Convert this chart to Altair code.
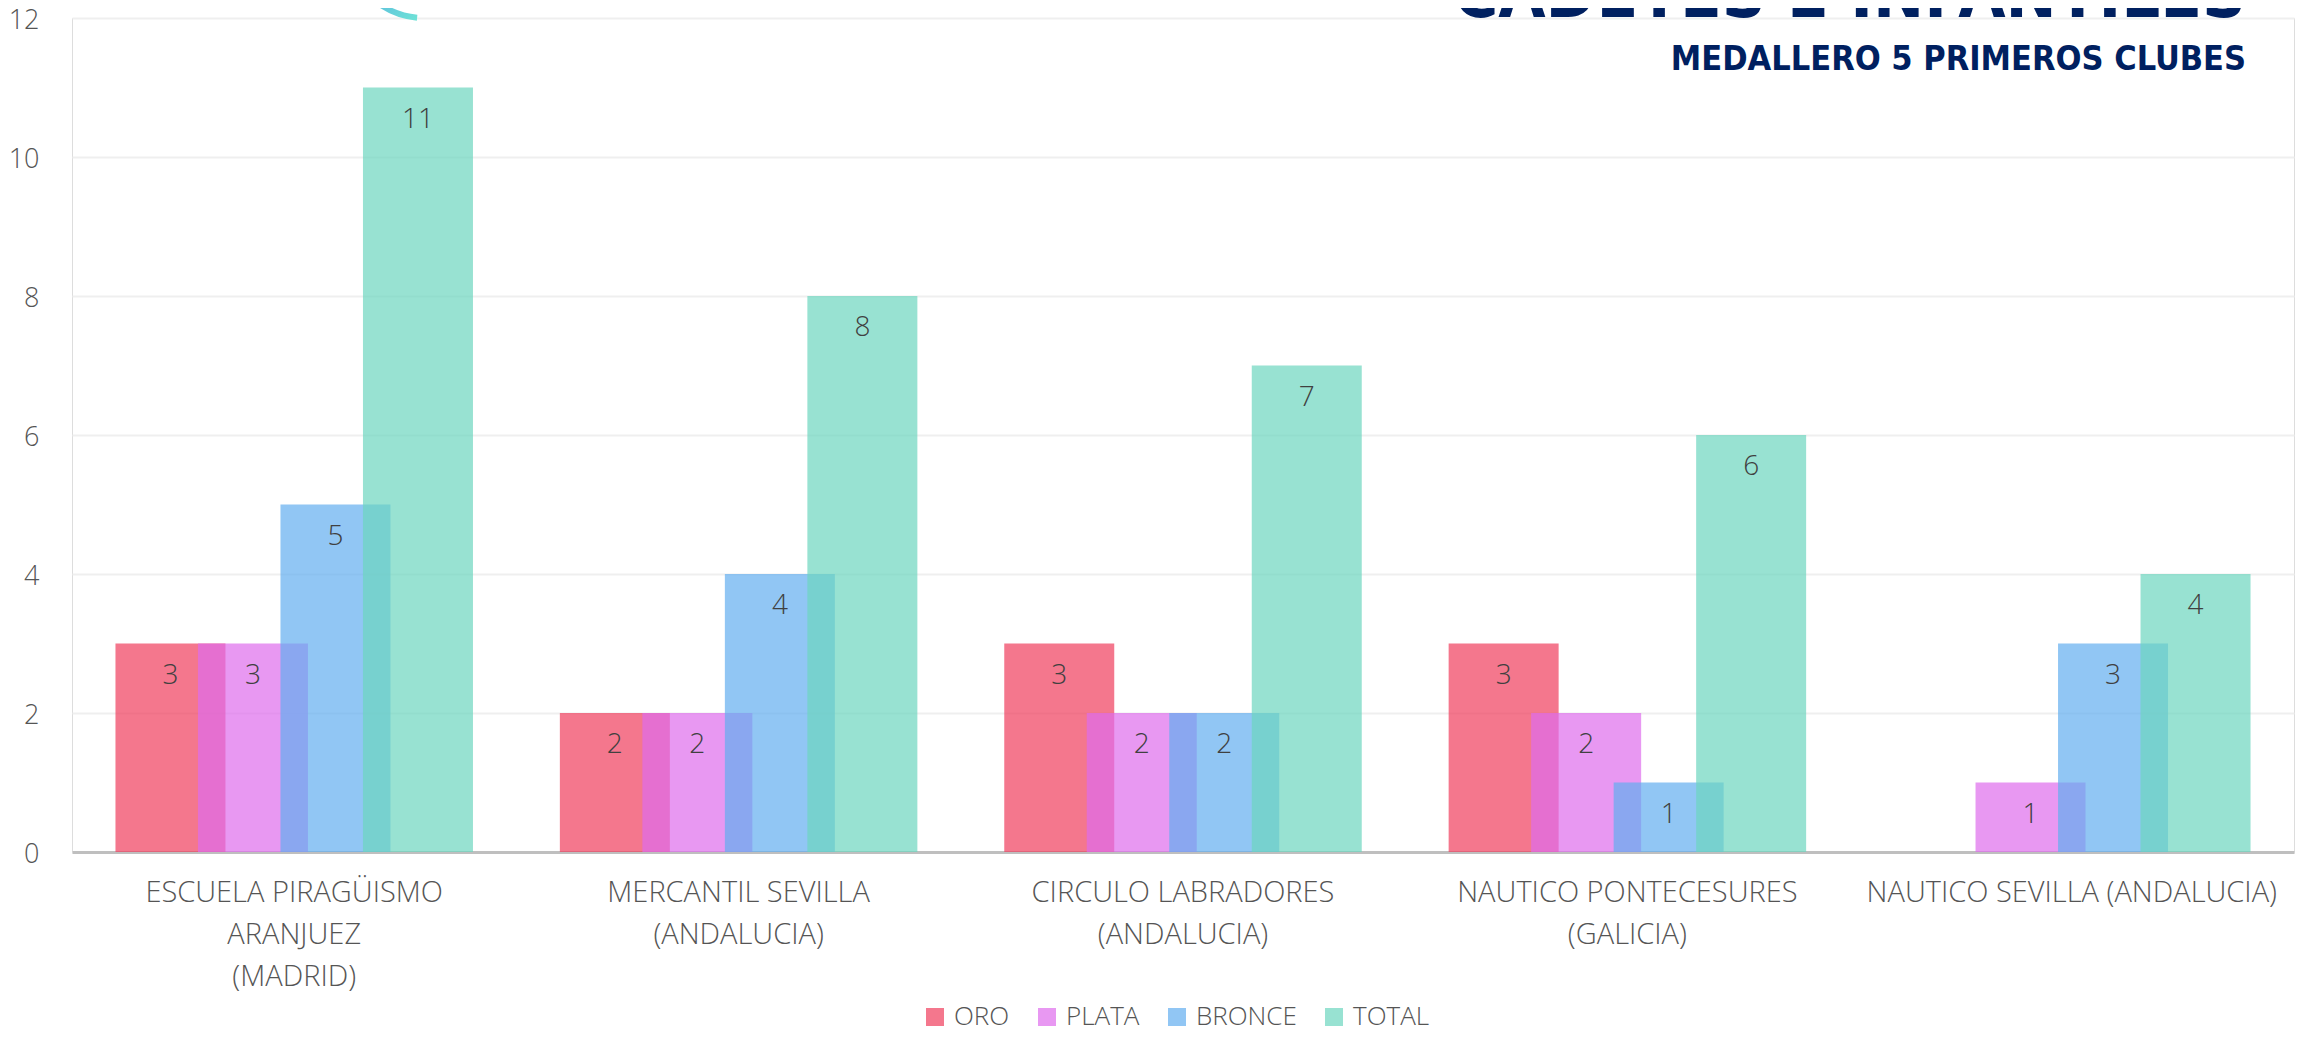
import altair as alt
import pandas as pd

clubs = [
    "ESCUELA PIRAGÜISMO|ARANJUEZ|(MADRID)",
    "MERCANTIL SEVILLA|(ANDALUCIA)",
    "CIRCULO LABRADORES|(ANDALUCIA)",
    "NAUTICO PONTECESURES|(GALICIA)",
    "NAUTICO SEVILLA (ANDALUCIA)",
]
medals = ["ORO", "PLATA", "BRONCE", "TOTAL"]
oro = [3, 2, 3, 3, 0]
plata = [3, 2, 2, 2, 1]
bronce = [5, 4, 2, 1, 3]
total = [11, 8, 7, 6, 4]
colors = ["#EF3D5C", "#DE6CEC", "#63AEEF", "#6CD6BF"]
y_ticks = [0, 2, 4, 6, 8, 10, 12]
title_text = "CADETES E INFANTILES"
subtitle_text = "MEDALLERO 5 PRIMEROS CLUBES"

series = {"ORO": oro, "PLATA": plata, "BRONCE": bronce, "TOTAL": total}
rows = []
for m in medals:
    for c, v in zip(clubs, series[m]):
        rows.append({"club": c, "medal": m, "value": v})
df = pd.DataFrame(rows)

FONT = "Open Sans"
NARROW = "Liberation Sans Narrow, DejaVu Sans Condensed, Arial Narrow, sans-serif"

x_enc = alt.X(
    "club:N",
    sort=clubs,
    scale=alt.Scale(paddingInner=0.1955, paddingOuter=0.0978),
    axis=alt.Axis(
        title=None,
        labelAngle=0,
        labelExpr="split(datum.label, '|')",
        labelFontSize=29,
        labelFont=FONT,
        labelFontWeight=300,
        labelColor="#555555",
        labelLineHeight=42,
        labelPadding=26,
        labelLimit=600,
        ticks=False,
        domain=True,
        domainColor="#BFBFBF",
        domainWidth=3,
        grid=False,
    ),
)
xoff_enc = alt.XOffset(
    "medal:N", sort=medals, scale=alt.Scale(paddingInner=0, paddingOuter=0.1667)
)
y_enc = alt.Y(
    "value:Q",
    scale=alt.Scale(domain=[0, 12], nice=False),
    axis=alt.Axis(
        title=None,
        values=y_ticks,
        format="d",
        labelFontSize=27,
        labelFont=FONT,
        labelFontWeight=300,
        labelColor="#555555",
        labelPadding=33,
        labelOffset=2,
        ticks=False,
        domain=False,
        grid=True,
        gridColor="#EFEFEF",
        gridWidth=2,
    ),
)

bars = alt.Chart(df).mark_bar(width=110, opacity=0.7).encode(
    x=x_enc,
    xOffset=xoff_enc,
    y=y_enc,
    color=alt.Color(
        "medal:N",
        sort=medals,
        scale=alt.Scale(domain=medals, range=colors),
        legend=alt.Legend(
            title=None,
            orient="none",
            direction="horizontal",
            legendX=850,
            legendY=986,
            symbolType="square",
            symbolSize=324,
            symbolStrokeWidth=0,
            labelFontSize=26,
            labelFont=FONT,
            labelFontWeight=300,
            labelColor="#555555",
            labelOffset=6,
            columnPadding=24,
            columns=4,
        ),
    ),
)

labels = alt.Chart(df).transform_filter("datum.value > 0").mark_text(
    baseline="middle", dy=32, fontSize=28, font=FONT, fontWeight=300, color="#404040"
).encode(
    x=alt.X("club:N", sort=clubs),
    xOffset=alt.XOffset("medal:N", sort=medals),
    y=alt.Y("value:Q"),
    text=alt.Text("value:Q"),
)

title_df = pd.DataFrame({"t": [title_text]})
sub_df = pd.DataFrame({"t": [subtitle_text]})

title_mark = alt.Chart(title_df).mark_text(
    align="right", baseline="alphabetic", font=NARROW, fontWeight="bold",
    fontSize=68, color="#002060", clip=False,
).encode(x=alt.value(2174), y=alt.value(-1), text="t:N")

sub_mark = alt.Chart(sub_df).mark_text(
    align="right", baseline="alphabetic", font=NARROW, fontWeight="bold",
    fontSize=34, color="#002060", clip=False,
).encode(x=alt.value(2174), y=alt.value(52), text="t:N")

logo_df = pd.DataFrame({"k": [1]})
logo = alt.Chart(logo_df).mark_arc(
    radius=75, radius2=81, theta=3.23, theta2=4.2,
    color=alt.Gradient(
        gradient="linear",
        stops=[alt.GradientStop(color="#4FA3E3", offset=0),
               alt.GradientStop(color="#6FE3D6", offset=1)],
        x1=0, x2=1, y1=0, y2=1,
    ),
    clip=False,
).encode(x=alt.value(352), y=alt.value(-78))

chart = alt.layer(bars, labels, title_mark, sub_mark, logo).properties(
    width=2222,
    height=834,
    autosize=alt.AutoSizeParams(type="none"),
    padding={"left": 64, "top": 10, "right": 2, "bottom": 176},
).configure_view(stroke=None).configure(background="white")

chart.save("out.html", embed_options={"renderer": "svg", "actions": False})
